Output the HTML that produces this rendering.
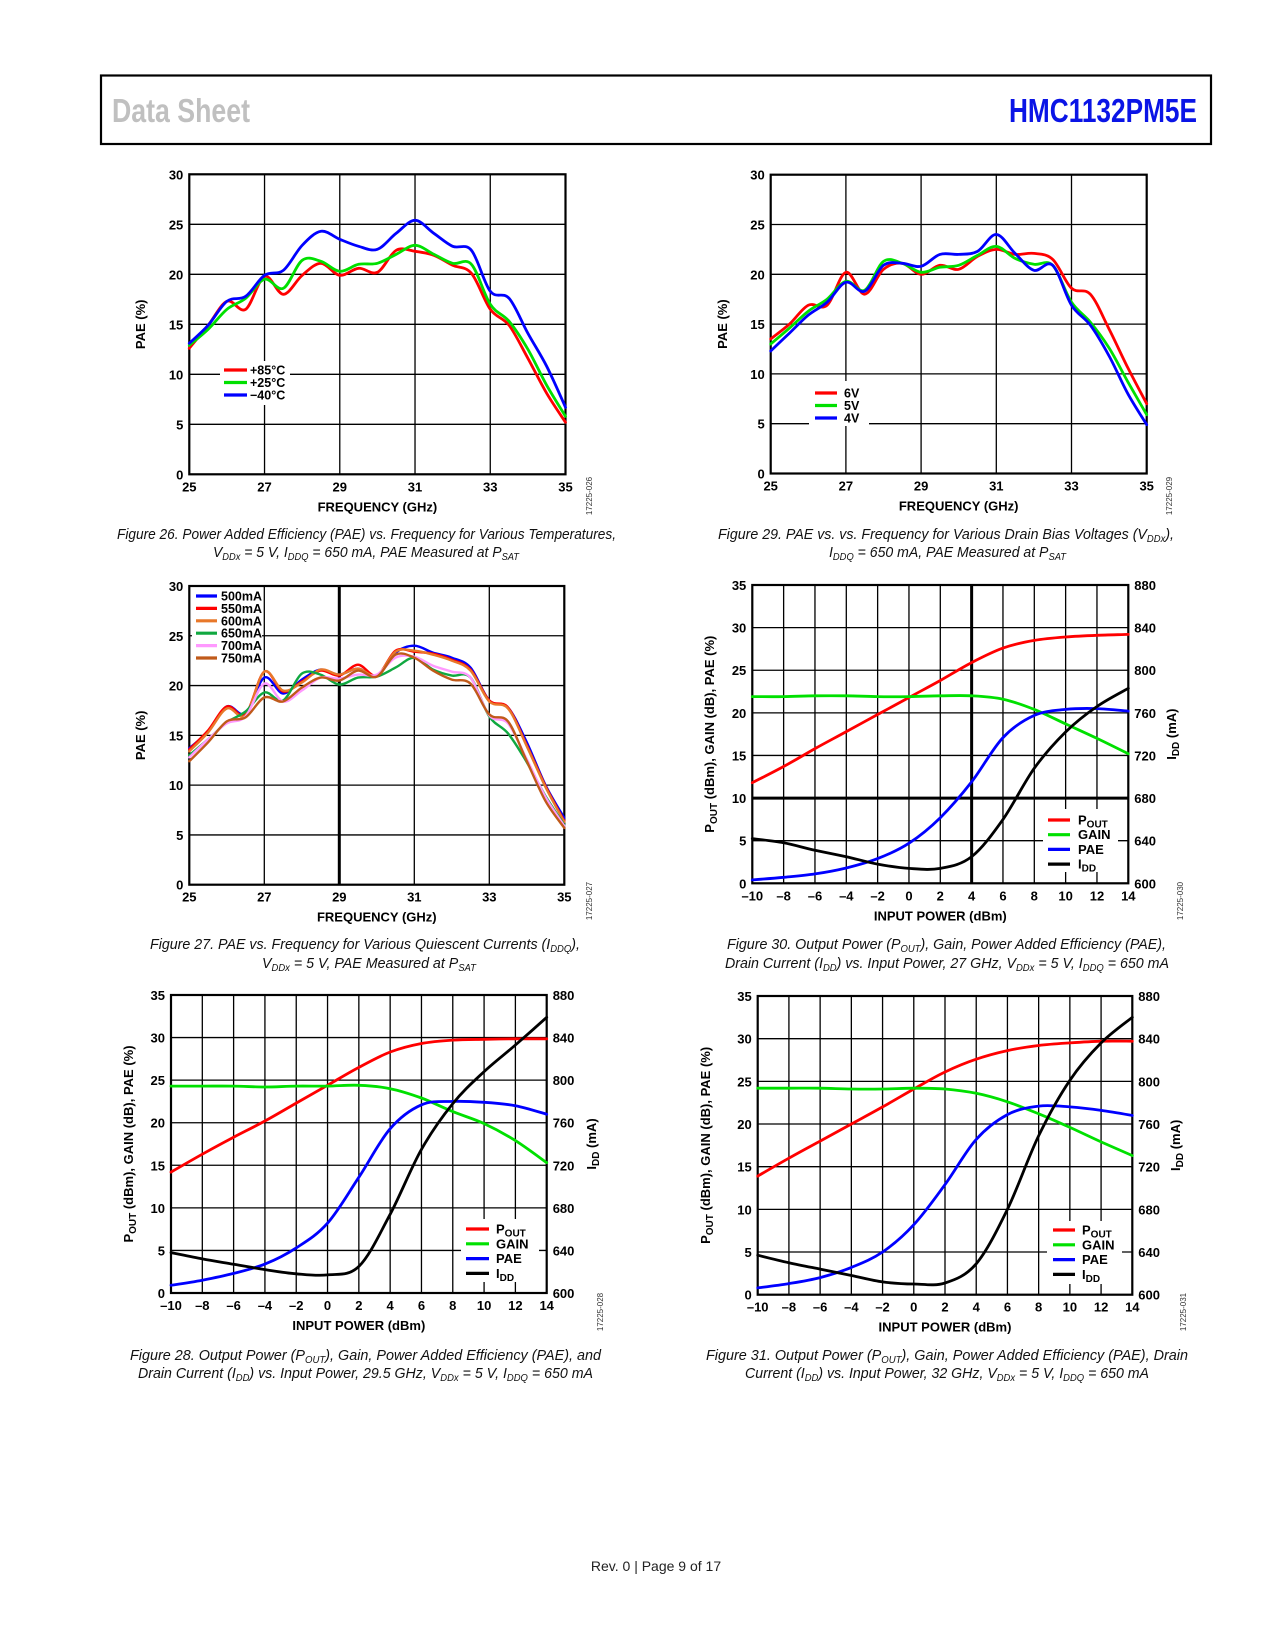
<!DOCTYPE html>
<html><head><meta charset="utf-8"><style>
html,body{margin:0;padding:0;background:#fff}
svg{display:block}
text{font-family:"Liberation Sans",sans-serif}
.tk{font-size:13px;font-weight:bold;fill:#000}
.cap{font-size:15px;font-style:italic;fill:#111}
</style></head><body>
<svg id="page" xmlns="http://www.w3.org/2000/svg" width="1275" height="1650" viewBox="0 0 1275 1650">
<rect x="0" y="0" width="1275" height="1650" fill="#fff"/>
<rect x="101" y="75.5" width="1110" height="68.5" fill="none" stroke="#000" stroke-width="2.2"/>
<text x="112" y="122" font-family="'Liberation Sans Narrow','Liberation Sans',sans-serif" font-size="33" font-weight="bold" fill="#c0c0c0" textLength="138" lengthAdjust="spacingAndGlyphs">Data Sheet</text>
<text x="1009" y="122" font-family="'Liberation Sans Narrow','Liberation Sans',sans-serif" font-size="33" font-weight="bold" fill="#0a14e6" textLength="188" lengthAdjust="spacingAndGlyphs">HMC1132PM5E</text>

<text class="cap" x="117" y="539" textLength="499" lengthAdjust="spacingAndGlyphs">Figure 26. Power Added Efficiency (PAE) vs. Frequency for Various Temperatures,</text>
<text class="cap" x="213" y="557" textLength="306" lengthAdjust="spacingAndGlyphs">V<tspan font-size="10" dy="3">DDx</tspan><tspan dy="-3"> = 5 V, I</tspan><tspan font-size="10" dy="3">DDQ</tspan><tspan dy="-3"> = 650 mA, PAE Measured at P</tspan><tspan font-size="10" dy="3">SAT</tspan></text>
<text class="cap" x="718" y="539" textLength="456" lengthAdjust="spacingAndGlyphs">Figure 29. PAE vs. vs. Frequency for Various Drain Bias Voltages (V<tspan font-size="10" dy="3">DDx</tspan><tspan dy="-3">),</tspan></text>
<text class="cap" x="829" y="557" textLength="237" lengthAdjust="spacingAndGlyphs">I<tspan font-size="10" dy="3">DDQ</tspan><tspan dy="-3"> = 650 mA, PAE Measured at P</tspan><tspan font-size="10" dy="3">SAT</tspan></text>
<text class="cap" x="150" y="949" textLength="430" lengthAdjust="spacingAndGlyphs">Figure 27. PAE vs. Frequency for Various Quiescent Currents (I<tspan font-size="10" dy="3">DDQ</tspan><tspan dy="-3">),</tspan></text>
<text class="cap" x="262" y="968" textLength="214" lengthAdjust="spacingAndGlyphs">V<tspan font-size="10" dy="3">DDx</tspan><tspan dy="-3"> = 5 V, PAE Measured at P</tspan><tspan font-size="10" dy="3">SAT</tspan></text>
<text class="cap" x="727" y="949" textLength="439" lengthAdjust="spacingAndGlyphs">Figure 30. Output Power (P<tspan font-size="10" dy="3">OUT</tspan><tspan dy="-3">), Gain, Power Added Efficiency (PAE),</tspan></text>
<text class="cap" x="725" y="968" textLength="444" lengthAdjust="spacingAndGlyphs">Drain Current (I<tspan font-size="10" dy="3">DD</tspan><tspan dy="-3">) vs. Input Power, 27 GHz, V</tspan><tspan font-size="10" dy="3">DDx</tspan><tspan dy="-3"> = 5 V, I</tspan><tspan font-size="10" dy="3">DDQ</tspan><tspan dy="-3"> = 650 mA</tspan></text>
<text class="cap" x="130" y="1360" textLength="471" lengthAdjust="spacingAndGlyphs">Figure 28. Output Power (P<tspan font-size="10" dy="3">OUT</tspan><tspan dy="-3">), Gain, Power Added Efficiency (PAE), and</tspan></text>
<text class="cap" x="138" y="1378" textLength="455" lengthAdjust="spacingAndGlyphs">Drain Current (I<tspan font-size="10" dy="3">DD</tspan><tspan dy="-3">) vs. Input Power, 29.5 GHz, V</tspan><tspan font-size="10" dy="3">DDx</tspan><tspan dy="-3"> = 5 V, I</tspan><tspan font-size="10" dy="3">DDQ</tspan><tspan dy="-3"> = 650 mA</tspan></text>
<text class="cap" x="706" y="1360" textLength="482" lengthAdjust="spacingAndGlyphs">Figure 31. Output Power (P<tspan font-size="10" dy="3">OUT</tspan><tspan dy="-3">), Gain, Power Added Efficiency (PAE), Drain</tspan></text>
<text class="cap" x="745" y="1378" textLength="404" lengthAdjust="spacingAndGlyphs">Current (I<tspan font-size="10" dy="3">DD</tspan><tspan dy="-3">) vs. Input Power, 32 GHz, V</tspan><tspan font-size="10" dy="3">DDx</tspan><tspan dy="-3"> = 5 V, I</tspan><tspan font-size="10" dy="3">DDQ</tspan><tspan dy="-3"> = 650 mA</tspan></text>
<text x="656" y="1571" text-anchor="middle" font-size="14" fill="#222">Rev. 0 | Page 9 of 17</text>
</svg>
<script>
// ---------- data ----------
const freqGHz = [25,25.5,26,26.5,27,27.5,28,28.5,29,29.5,30,30.5,31,31.5,32,32.5,33,33.5,34,34.5,35];
const fig26Hot  = [12.6,14.9,17.3,16.5,19.8,18.0,19.9,21.1,19.9,20.6,20.2,22.4,22.3,21.9,20.9,20.1,16.5,14.9,11.6,8.1,5.2];
const fig26Room = [12.9,14.5,16.5,17.6,19.5,18.6,21.4,21.3,20.3,21.0,21.1,22.0,22.9,22.0,21.1,21.0,17.0,15.3,12.5,8.9,5.8];
const fig26Cold = [13.1,14.9,17.3,17.8,19.9,20.4,22.9,24.3,23.5,22.8,22.5,24.1,25.4,24.1,22.8,22.4,18.3,17.6,14.1,10.8,6.7];
const fig29V6 = [13.5,15.0,16.9,16.9,20.2,18.0,20.5,21.1,20.0,20.9,20.5,21.8,22.5,22.0,22.1,21.5,18.6,18.0,14.5,10.6,7.0];
const fig29V5 = [13.0,14.6,16.3,17.5,19.3,18.4,21.3,21.1,20.2,20.7,20.9,21.9,22.8,21.6,21.0,20.9,17.2,15.2,12.6,9.2,5.9];
const fig29V4 = [12.3,14.1,15.9,17.2,19.2,18.3,20.9,21.1,20.8,22.0,22.0,22.3,24.0,22.1,20.4,20.9,16.9,14.9,11.8,8.0,4.9];
const fig27I500 = [13.7,15.4,17.9,17.2,20.8,19.2,20.6,21.6,21.1,21.7,21.0,23.3,24.0,23.3,22.8,21.8,18.5,17.8,14.3,10.0,6.7];
const fig27I550 = [13.6,15.5,17.9,17.1,21.4,19.4,20.4,21.5,21.0,22.1,21.0,23.5,23.4,23.2,22.6,21.6,18.5,17.8,14.0,9.9,6.4];
const fig27I600 = [13.4,15.3,17.7,17.0,21.4,19.5,20.3,21.6,21.1,21.7,21.0,23.4,23.5,23.1,22.5,21.5,18.4,17.7,13.9,9.8,6.3];
const fig27I650 = [13.0,14.6,16.3,17.4,19.3,18.5,21.2,21.1,20.1,20.8,20.9,21.8,22.8,21.6,21.0,20.8,16.9,15.2,12.3,8.9,6.0];
const fig27I700 = [12.8,14.6,16.2,16.9,20.2,18.4,19.5,20.8,20.7,21.1,21.1,22.8,22.9,22.0,21.4,20.8,17.0,16.2,12.6,8.8,5.9];
const fig27I750 = [12.4,14.3,16.4,16.8,18.8,18.4,19.8,20.8,20.5,21.5,20.9,23.1,22.8,21.5,20.6,20.2,17.1,16.4,12.4,8.4,5.7];
const pinDbm = [-10,-8,-6,-4,-2,0,2,4,6,8,10,12,14];
const fig28Pout = [14.2,16.3,18.3,20.2,22.3,24.4,26.5,28.3,29.3,29.7,29.8,29.85,29.85];
const fig28Gain = [24.3,24.3,24.3,24.2,24.3,24.3,24.4,24.0,22.9,21.3,19.9,17.9,15.3];
const fig28Pae  = [0.9,1.5,2.3,3.4,5.3,8.2,13.6,19.3,22.1,22.5,22.4,22.0,21.0];
const fig28Idd  = [638,632,627,622,618,617,625,674,735,778,808,833,859];
const fig30Pout = [11.8,13.7,15.8,17.8,19.8,21.8,23.8,25.9,27.6,28.5,28.9,29.1,29.2];
const fig30Gain = [21.9,21.9,22.0,22.0,21.9,21.9,22.0,22.0,21.6,20.4,18.7,17.0,15.2];
const fig30Pae  = [0.4,0.7,1.1,1.8,2.9,4.7,7.7,11.9,17.1,19.7,20.4,20.5,20.2];
const fig30Idd  = [642,638,631,625,618,614,614,625,660,708,742,766,783];
const fig31Pout = [13.9,16.0,18.0,20.0,22.0,24.1,26.1,27.6,28.6,29.2,29.5,29.7,29.7];
const fig31Gain = [24.2,24.2,24.2,24.1,24.1,24.2,24.1,23.6,22.6,21.2,19.6,17.9,16.3];
const fig31Pae  = [0.8,1.3,2.0,3.2,5.0,8.2,12.9,18.2,21.1,22.1,22.0,21.6,21.0];
const fig31Idd  = [637,630,624,618,612,610,611,629,680,749,801,836,860];
const freqTicks = [25,27,29,31,33,35];
const paeTicks = [0,5,10,15,20,25,30];
const pinTicks = [-10,-8,-6,-4,-2,0,2,4,6,8,10,12,14];
const leftTicks = [0,5,10,15,20,25,30,35];
const iddTicks = [600,640,680,720,760,800,840,880];

// ---------- helpers ----------
const NS = "http://www.w3.org/2000/svg";
const svg = document.getElementById("page");
function mk(tag, attrs, parent){
  const e = document.createElementNS(NS, tag);
  for (const k in attrs) e.setAttribute(k, attrs[k]);
  (parent||svg).appendChild(e);
  return e;
}
function fmt(v){ return v<0 ? "\u2013"+Math.abs(v) : String(v); }
function smoothPath(pts){
  let d = "M"+pts[0][0].toFixed(1)+","+pts[0][1].toFixed(1);
  for (let i=0;i<pts.length-1;i++){
    const p0=pts[i-1]||pts[i], p1=pts[i], p2=pts[i+1], p3=pts[i+2]||pts[i+1];
    const c1=[p1[0]+(p2[0]-p0[0])/6, p1[1]+(p2[1]-p0[1])/6];
    const c2=[p2[0]-(p3[0]-p1[0])/6, p2[1]-(p3[1]-p1[1])/6];
    d += " C"+c1[0].toFixed(1)+","+c1[1].toFixed(1)+" "+c2[0].toFixed(1)+","+c2[1].toFixed(1)+" "+p2[0].toFixed(1)+","+p2[1].toFixed(1);
  }
  return d;
}
function addLabel(g, x, y, parts, attrs){
  const t = mk("text", attrs, g);
  t.setAttribute("x", x); t.setAttribute("y", y);
  let sub=false;
  parts.forEach(p=>{
    const s = mk("tspan", {}, t);
    if (p.sub && !sub){ s.setAttribute("dy","3"); s.setAttribute("font-size","10"); sub=true; }
    else if (!p.sub && sub){ s.setAttribute("dy","-3"); sub=false; }
    s.textContent = p.t;
  });
  return t;
}

function chart(c){
  const g = mk("g", {});
  
  
  const sx = v => c.x0 + (v-c.xmin)/(c.xmax-c.xmin)*(c.x1-c.x0);
  const sy = v => c.y1 - (v-c.ymin)/(c.ymax-c.ymin)*(c.y1-c.y0);
  const sy2 = v => c.y1 - (v-c.y2min)/(c.y2max-c.y2min)*(c.y1-c.y0);
  // grid
  for (let v=c.xmin; v<=c.xmax+1e-9; v+=c.xgrid){
    const l = mk("line", {x1:sx(v),x2:sx(v),y1:c.y0,y2:c.y1,stroke:"#000","stroke-width": (c.boldX===v?3:1.3)}, g);
    
    
  }
  for (let v=c.ymin; v<=c.ymax+1e-9; v+=c.ygrid){
    const l = mk("line", {x1:c.x0,x2:c.x1,y1:sy(v),y2:sy(v),stroke:"#000","stroke-width": (c.boldY===v?3:1.3)}, g);
    
    
  }
  const fr = mk("rect", {x:c.x0,y:c.y0,width:c.x1-c.x0,height:c.y1-c.y0,fill:"none",stroke:"#000","stroke-width":2.2}, g);
  
  
  // ticks
  c.xticks.forEach(v=>{
    const t = mk("text", {x:sx(v), y:c.y1+17, "text-anchor":"middle", class:"tk"}, g);
    
    
    t.textContent = fmt(v);
  });
  c.yticks.forEach(v=>{
    const t = mk("text", {x:c.x0-6, y:sy(v)+5, "text-anchor":"end", class:"tk"}, g);
    
    
    t.textContent = v;
  });
  if (c.y2ticks){
    c.y2ticks.forEach(v=>{
      const t = mk("text", {x:c.x1+6, y:sy2(v)+5, "text-anchor":"start", class:"tk"}, g);
      
      
      t.textContent = v;
    });
  }
  // axis titles
  const xt = mk("text", {x:(c.x0+c.x1)/2, y:c.y1+37, "text-anchor":"middle", "font-size":13, "font-weight":"bold"}, g);
  
  
  xt.textContent = c.xtitle;
  const ym = (c.y0+c.y1)/2;
  const yt = addLabel(g, 0, 0, c.ytitle, {"text-anchor":"middle","font-size":13,"font-weight":"bold",transform:"translate("+c.ytx+","+ym+") rotate(-90)"});
  
  
  if (c.y2title){
    const y2 = addLabel(g, 0, 0, c.y2title, {"text-anchor":"middle","font-size":13,"font-weight":"bold",transform:"translate("+c.y2tx+","+ym+") rotate(-90)"});
    
    
  }
  const id = mk("text", {"font-size":8, fill:"#333", "text-anchor":"middle", transform:"translate("+c.idx+","+c.idy+") rotate(-90)"}, g);
  
  
  id.textContent = c.id;
  // series
  c.series.forEach(s=>{
    const f = s.right ? sy2 : sy;
    const pts = c.xs.map((x,i)=>[sx(x), f(s.vals[i])]);
    const p = mk("path", {d:smoothPath(pts), fill:"none", stroke:s.color, "stroke-width":s.w||2.8, "stroke-linejoin":"round","stroke-linecap":"round"}, g);
    
    
  });
  // legend
  const L = c.legend;
  const bg = mk("rect", {x:L.bx,y:L.by,width:L.bw,height:L.bh,fill:"#fff"}, g);
  
  
  c.series.forEach((s,i)=>{
    const y = L.y + i*L.dy;
    const ln = mk("line", {x1:L.lx, x2:L.lx+L.lw, y1:y, y2:y, stroke:s.color, "stroke-width":3.2}, g);
    
    
    const t = addLabel(g, L.tx, y+4.5, s.label, {"font-size":L.fs||12.5,"font-weight":"bold"});
    
    
  });
}
const T = s => [{t:s}];
const poutTitle = [{t:"P"},{t:"OUT",sub:true},{t:" (dBm), GAIN (dB), PAE (%)"}];
const iddTitle = [{t:"I"},{t:"DD",sub:true},{t:" (mA)"}];
const poutL = [{t:"P"},{t:"OUT",sub:true}];
const iddL = [{t:"I"},{t:"DD",sub:true}];

chart({name:"fig26-pae-vs-freq-temperature", x0:189.3,x1:565.5,y0:174.3,y1:474.3,xmin:25,xmax:35,ymin:0,ymax:30,xgrid:2,ygrid:5,
  xticks:freqTicks,yticks:paeTicks,xtitle:"FREQUENCY (GHz)",ytitle:T("PAE (%)"),ytx:145,idx:592,idy:496,id:"17225-026",xs:freqGHz,
  series:[{vals:fig26Hot,color:"#ff0000",label:T("+85\u00B0C"),dname:"series-plus85c"},
          {vals:fig26Room,color:"#00e000",label:T("+25\u00B0C"),dname:"series-plus25c"},
          {vals:fig26Cold,color:"#0000ff",label:T("\u221240\u00B0C"),dname:"series-minus40c"}],
  legend:{bx:220,by:361,bw:70,bh:44,lx:224,lw:23,tx:250,y:370,dy:12.5}});
chart({name:"fig29-pae-vs-freq-vdd", x0:770.7,x1:1146.7,y0:174.7,y1:473.5,xmin:25,xmax:35,ymin:0,ymax:30,xgrid:2,ygrid:5,
  xticks:freqTicks,yticks:paeTicks,xtitle:"FREQUENCY (GHz)",ytitle:T("PAE (%)"),ytx:727,idx:1172,idy:496,id:"17225-029",xs:freqGHz,
  series:[{vals:fig29V6,color:"#ff0000",label:T("6V"),dname:"series-6v"},
          {vals:fig29V5,color:"#00e000",label:T("5V"),dname:"series-5v"},
          {vals:fig29V4,color:"#0000ff",label:T("4V"),dname:"series-4v"}],
  legend:{bx:809,by:381,bw:60,bh:45,lx:815,lw:22,tx:844,y:393,dy:12.5}});
chart({name:"fig27-pae-vs-freq-iddq", x0:189.3,x1:564.3,y0:586,y1:884.7,xmin:25,xmax:35,ymin:0,ymax:30,xgrid:2,ygrid:5,boldX:29,
  xticks:freqTicks,yticks:paeTicks,xtitle:"FREQUENCY (GHz)",ytitle:T("PAE (%)"),ytx:145,idx:592,idy:901,id:"17225-027",xs:freqGHz,
  series:[{vals:fig27I500,color:"#0000ff",label:T("500mA"),dname:"series-500ma",w:2.4},
          {vals:fig27I550,color:"#ff0000",label:T("550mA"),dname:"series-550ma",w:2.4},
          {vals:fig27I600,color:"#e8782a",label:T("600mA"),dname:"series-600ma",w:2.4},
          {vals:fig27I650,color:"#10a840",label:T("650mA"),dname:"series-650ma",w:2.4},
          {vals:fig27I700,color:"#ff99ff",label:T("700mA"),dname:"series-700ma",w:2.4},
          {vals:fig27I750,color:"#c05a1a",label:T("750mA"),dname:"series-750ma",w:2.4}],
  legend:{bx:192,by:589,bw:70,bh:75,lx:196,lw:21,tx:221,y:596,dy:12.4}});
chart({name:"fig30-pout-gain-pae-idd-27ghz", x0:752.3,x1:1128.3,y0:585,y1:883.3,xmin:-10,xmax:14,ymin:0,ymax:35,xgrid:2,ygrid:5,boldX:4,boldY:10,
  y2min:600,y2max:880,y2ticks:iddTicks,y2title:iddTitle,y2tx:1176,
  xticks:pinTicks,yticks:leftTicks,xtitle:"INPUT POWER (dBm)",ytitle:poutTitle,ytx:714,idx:1183,idy:901,id:"17225-030",xs:pinDbm,
  series:[{vals:fig30Pout,color:"#ff0000",label:poutL,dname:"series-pout"},
          {vals:fig30Gain,color:"#00e000",label:T("GAIN"),dname:"series-gain"},
          {vals:fig30Pae,color:"#0000ff",label:T("PAE"),dname:"series-pae"},
          {vals:fig30Idd,color:"#000000",label:iddL,dname:"series-idd",right:true}],
  legend:{bx:1043,by:809,bw:75,bh:63,lx:1048,lw:22,tx:1078,y:820,dy:14.7,fs:13}});
chart({name:"fig28-pout-gain-pae-idd-29p5ghz", x0:171,x1:546.7,y0:995,y1:1293,xmin:-10,xmax:14,ymin:0,ymax:35,xgrid:2,ygrid:5,
  y2min:600,y2max:880,y2ticks:iddTicks,y2title:iddTitle,y2tx:596,
  xticks:pinTicks,yticks:leftTicks,xtitle:"INPUT POWER (dBm)",ytitle:poutTitle,ytx:133,idx:603,idy:1312,id:"17225-028",xs:pinDbm,
  series:[{vals:fig28Pout,color:"#ff0000",label:poutL,dname:"series-pout"},
          {vals:fig28Gain,color:"#00e000",label:T("GAIN"),dname:"series-gain"},
          {vals:fig28Pae,color:"#0000ff",label:T("PAE"),dname:"series-pae"},
          {vals:fig28Idd,color:"#000000",label:iddL,dname:"series-idd",right:true}],
  legend:{bx:461,by:1219,bw:78,bh:63,lx:466,lw:23,tx:496,y:1229,dy:14.8,fs:13}});
chart({name:"fig31-pout-gain-pae-idd-32ghz", x0:757.7,x1:1132.3,y0:996,y1:1294.7,xmin:-10,xmax:14,ymin:0,ymax:35,xgrid:2,ygrid:5,
  y2min:600,y2max:880,y2ticks:iddTicks,y2title:iddTitle,y2tx:1180,
  xticks:pinTicks,yticks:leftTicks,xtitle:"INPUT POWER (dBm)",ytitle:poutTitle,ytx:710,idx:1186,idy:1312,id:"17225-031",xs:pinDbm,
  series:[{vals:fig31Pout,color:"#ff0000",label:poutL,dname:"series-pout"},
          {vals:fig31Gain,color:"#00e000",label:T("GAIN"),dname:"series-gain"},
          {vals:fig31Pae,color:"#0000ff",label:T("PAE"),dname:"series-pae"},
          {vals:fig31Idd,color:"#000000",label:iddL,dname:"series-idd",right:true}],
  legend:{bx:1047,by:1221,bw:75,bh:63,lx:1053,lw:22,tx:1082,y:1230,dy:14.8,fs:13}});
</script>
</body></html>
